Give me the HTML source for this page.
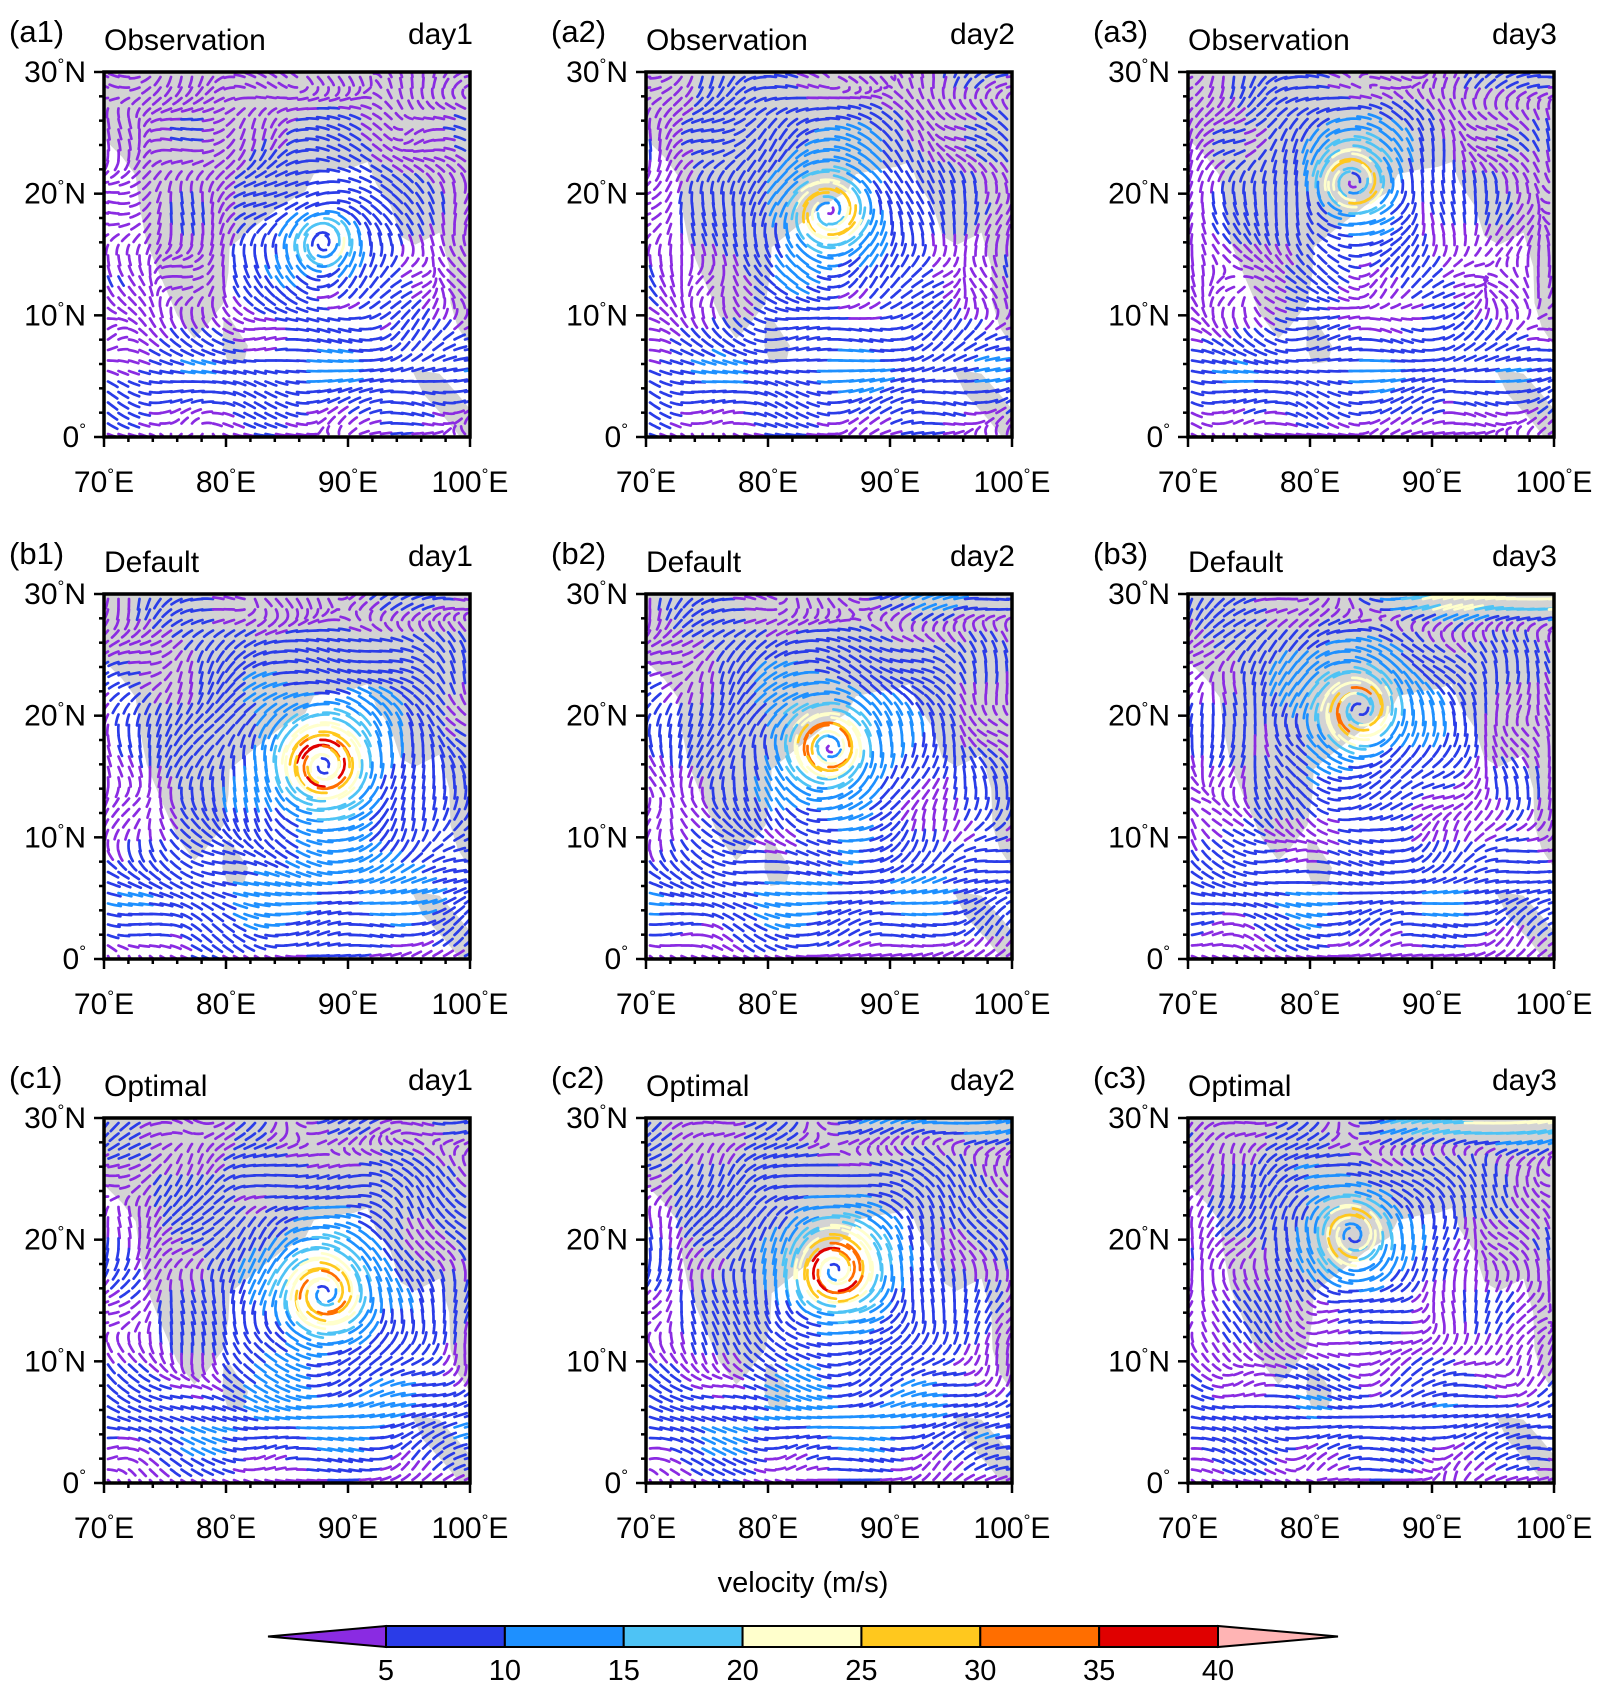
<!DOCTYPE html>
<html><head><meta charset="utf-8">
<style>
html,body{margin:0;padding:0;background:#fff;}
body{width:1599px;height:1690px;overflow:hidden;font-family:"Liberation Sans",Arial,sans-serif;}
svg text{font-family:"Liberation Sans",Arial,sans-serif;fill:#000;}
</style></head>
<body>
<svg id="fig" width="1599" height="1690" viewBox="0 0 1599 1690" xmlns="http://www.w3.org/2000/svg"></svg>
<script>
// ---- data ----
const panelIds = ["a1","a2","a3","b1","b2","b3","c1","c2","c3"];
const rowNames = ["Observation","Default","Optimal"];
const dayNames = ["day1","day2","day3"];
const cycLon = [88.0, 85.0, 83.5, 88.0, 85.0, 84.0, 88.0, 85.5, 83.5];
const cycLat = [16.0, 18.5, 21.0, 16.0, 17.5, 20.5, 15.5, 17.5, 20.5];
const cycVmax = [21, 31, 27, 38, 34, 33, 34, 37, 28];
const jetSpeed = [4, 6, 8, 10, 14, 26, 10, 16, 24];
const lonTicks = [70, 80, 90, 100];
const latTicks = [0, 10, 20, 30];
const cbLevels = [5, 10, 15, 20, 25, 30, 35, 40];
const cbColors = ["#8a2be2","#2a3ce8","#1e90ff","#4ec3f5","#ffffcc","#ffc81e","#ff6e00","#e00000","#ffb4b4"];
// land outlines (lon, lat)
const landMain = [[70,24.5],[71.5,23],[72.6,21.5],[72.9,19],[73.5,16],[74.5,13.5],[76,10],[77.4,8.1],[78.3,9],[79.8,11],[80.2,13.5],[80.3,15.6],[82,17],[84.5,19],[86.5,20.2],[87.2,21.6],[89,22],[90.5,22.2],[91.6,22.6],[92.3,20.8],[93.5,19],[94.3,16.5],[95.5,15.8],[97.5,16.8],[98.3,14],[98.4,11],[99,9],[100,7.5],[100,30],[70,30]];
const landSumatra = [[95.2,5.6],[97.5,5.2],[99,3.5],[100,2.3],[100,0],[99.2,0],[98,1.5],[96.2,3.5]];
const landSriLanka = [[79.8,9.6],[80.3,9.8],[81.8,7.5],[81.5,6.2],[80.2,6.0],[79.7,7.5]];

const NS = "http://www.w3.org/2000/svg";
const svg = document.getElementById('fig');
function mk(tag, attrs, parent){const e=document.createElementNS(NS,tag);for(const k in attrs)e.setAttribute(k,attrs[k]);(parent||svg).appendChild(e);return e;}

const colX = [104, 646, 1188], rowY = [72, 594, 1118];
const PW = 366, PH = 365;

function colorFor(s){let i=0;while(i<cbLevels.length && s>=cbLevels[i])i++;return cbColors[i];}

function field(p, lon, lat){
  let u = 7.0*Math.exp(-Math.pow((lat-5)/3.8,2)) - 1.0;
  let v = 0;
  u += 3.0*Math.sin(lon*0.55+p)*Math.cos(lat*0.5+0.3*p);
  v += 3.0*Math.cos(lon*0.48+1+0.5*p)*Math.sin(lat*0.58);
  const j = jetSpeed[p]*Math.exp(-Math.pow((lat-29.5)/2.0,2))*(1/(1+Math.exp(-(lon-84)/1.5)));
  u += j;
  const dx = lon-cycLon[p], dy = lat-cycLat[p];
  const r = Math.sqrt(dx*dx+dy*dy)+1e-6, R=1.7;
  const vt = r<R ? cycVmax[p]*r/R : cycVmax[p]*Math.pow(R/r,1.0);
  u += -vt*dy/r; v += vt*dx/r;
  return [u,v];
}

panelIds.forEach((id, p)=>{
  const ci = p%3, ri = Math.floor(p/3);
  const x0 = colX[ci], y0 = rowY[ri];
  const g = mk('g',{});
  
  
  const sx = lon => x0 + (lon-70)/30*PW;
  const sy = lat => y0 + (30-lat)/30*PH;
  const cid='clip'+id;
  const cp = mk('clipPath',{id:cid},g); mk('rect',{x:x0,y:y0,width:PW,height:PH},cp);
  const land = mk('g',{'clip-path':'url(#'+cid+')'},g);
  
  
  [landMain,landSumatra,landSriLanka].forEach(poly=>{
    mk('polygon',{points:poly.map(q=>sx(q[0])+','+sy(q[1])).join(' '),fill:'#d3d3d3'},land);
  });
  const vec = mk('g',{'clip-path':'url(#'+cid+')','stroke-width':2.7,fill:'none','stroke-linecap':'round','stroke-linejoin':'round'},g);
  
  
  const step = 10.5;
  for(let py=y0+5; py<y0+PH; py+=step){
    for(let px=x0+4; px<x0+PW; px+=step){
      let lon = 70+(px-x0)/PW*30, lat = 30-(py-y0)/PH*30;
      const f0 = field(p,lon,lat);
      const s = Math.hypot(f0[0],f0[1]);
      const L = Math.min(20, 8 + s*0.5);
      let pts=[[px,py]]; let cx=px, cy=py;
      for(let k=0;k<4;k++){
        const f = field(p, 70+(cx-x0)/PW*30, 30-(cy-y0)/PH*30);
        const m = Math.hypot(f[0],f[1])+1e-6;
        cx += f[0]/m*L/4; cy -= f[1]/m*L/4;
        pts.push([cx,cy]);
      }
      mk('polyline',{points:pts.map(q=>q[0].toFixed(1)+','+q[1].toFixed(1)).join(' '),stroke:colorFor(s)},vec);
    }
  }
  const fr = mk('rect',{x:x0,y:y0,width:PW,height:PH,fill:'none',stroke:'#000','stroke-width':3.5},g);
  
  
  for(let d=0; d<=30; d+=2){
    const maj = d%10===0;
    const ln = maj?10:5;
    mk('line',{x1:sx(70+d),x2:sx(70+d),y1:y0+PH,y2:y0+PH+ln,stroke:'#000','stroke-width':2.5},g);
    mk('line',{x1:x0,x2:x0-ln,y1:sy(d),y2:sy(d),stroke:'#000','stroke-width':2.5},g);
  }
  lonTicks.forEach(lo=>{
    const t = mk('text',{x:sx(lo),y:y0+PH+55,'font-size':30,'text-anchor':'middle'},g);
    
    
    t.innerHTML = lo+'<tspan font-size="17" dy="-12">°</tspan><tspan dy="12">E</tspan>';
  });
  latTicks.forEach(la=>{
    const t = mk('text',{x:x0-18,y:sy(la)+10,'font-size':30,'text-anchor':'end'},g);
    
    
    t.innerHTML = la===0 ? '0<tspan font-size="17" dy="-12">°</tspan><tspan dy="12"> </tspan>' : la+'<tspan font-size="17" dy="-12">°</tspan><tspan dy="12">N</tspan>';
  });
  const lab = mk('text',{x:x0-95,y:y0-30,'font-size':31},g);
  
  
  lab.textContent='('+id+')';
  const tt = mk('text',{x:x0,y:y0-22,'font-size':30},g);
  
  
  tt.textContent=rowNames[ri];
  const dt = mk('text',{x:x0+PW+3,y:y0-28,'font-size':30,'text-anchor':'end'},g);
  
  
  dt.textContent=dayNames[ci];
});

const cb = mk('g',{});


const cbL=386, cbR=1218, cbT=1626, cbB=1647, tipL=268, tipR=1338;
const bw=(cbR-cbL)/(cbLevels.length-1);
const lt = mk('polygon',{points:`${tipL},${(cbT+cbB)/2} ${cbL},${cbT} ${cbL},${cbB}`,fill:cbColors[0],stroke:'#000','stroke-width':2},cb);


for(let i=0;i<cbLevels.length-1;i++){
  const r = mk('rect',{x:cbL+i*bw,y:cbT,width:bw,height:cbB-cbT,fill:cbColors[i+1],stroke:'#000','stroke-width':2},cb);
  
  
}
const rt = mk('polygon',{points:`${tipR},${(cbT+cbB)/2} ${cbR},${cbT} ${cbR},${cbB}`,fill:cbColors[cbColors.length-1],stroke:'#000','stroke-width':2},cb);


cbLevels.forEach((lv,i)=>{
  const t = mk('text',{x:cbL+i*bw,y:1680,'font-size':29,'text-anchor':'middle'},cb);
  
  
  t.textContent=lv;
});
const ct = mk('text',{x:803,y:1592,'font-size':29,'text-anchor':'middle'},cb);


ct.textContent='velocity (m/s)';
</script>
</body></html>
